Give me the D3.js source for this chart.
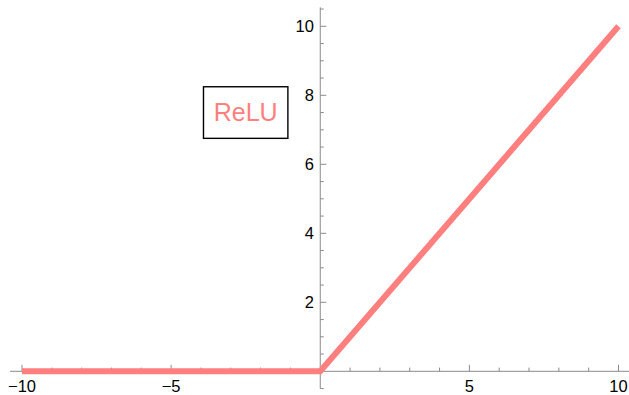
<!DOCTYPE html>
<html>
<head>
<meta charset="utf-8">
<script src="https://cdn.jsdelivr.net/npm/d3@7"></script>
<style>
  html, body { margin: 0; padding: 0; background: #fff; }
  svg { display: block; font-family: "Liberation Sans", Arial, sans-serif; }
</style>
</head>
<body>
<svg id="chart"></svg>
<script>
// ReLU curve
var xs = [-10, 0, 10];
var ys = [0, 0, 10];

var xMajor = [-10, -5, 5, 10];
var xMinor = [-9, -8, -7, -6, -4, -3, -2, -1, 1, 2, 3, 4, 6, 7, 8, 9];
var yMajor = [2, 4, 6, 8, 10];
var yMinor = [-0.5, 0.5, 1, 1.5, 2.5, 3, 3.5, 4.5, 5, 5.5, 6.5, 7, 7.5, 8.5, 9, 9.5, 10.5];

var label = {text: "ReLU", x: -2.5, y: 7.5};

var setup = { width: 629, height: 395 };
var pink = "#ff7f7f";
var axisCol = "#8a8a8a";

var svg = d3.select("#chart")
  .attr("width", setup.width)
  .attr("height", setup.height);

var x = d3.scaleLinear().domain([-10, 10]).range([22, 618.5]);
var y = d3.scaleLinear().domain([0, 10]).range([371.3, 26.3]);

// axes lines (cross at origin)
svg.append("line")
  .attr("x1", x(-10.4)).attr("x2", setup.width)
  .attr("y1", y(0)).attr("y2", y(0))
  .attr("stroke", axisCol).attr("stroke-width", 1);

svg.append("line")
  .attr("x1", x(0)).attr("x2", x(0))
  .attr("y1", y(-0.5)).attr("y2", y(10.55))
  .attr("stroke", axisCol).attr("stroke-width", 1);

// x ticks point up into the plot
svg.selectAll(".xmaj").data(xMajor).enter().append("line")
  .attr("x1", d => x(d)).attr("x2", d => x(d))
  .attr("y1", y(0)).attr("y2", y(0) - 6.5)
  .attr("stroke", axisCol);
svg.selectAll(".xmin").data(xMinor).enter().append("line")
  .attr("x1", d => x(d)).attr("x2", d => x(d))
  .attr("y1", y(0)).attr("y2", y(0) - 3.7)
  .attr("stroke", axisCol);

svg.selectAll(".xlab").data(xMajor).enter().append("text")
  .attr("x", d => x(d)).attr("y", y(0) + 20.5)
  .attr("text-anchor", "middle")
  .attr("font-size", 16.5)
  .attr("fill", "#000")
  .text(d => d < 0 ? "\u2212" + Math.abs(d) : d);

// y ticks point right
svg.selectAll(".ymaj").data(yMajor).enter().append("line")
  .attr("x1", x(0)).attr("x2", x(0) + 6)
  .attr("y1", d => y(d)).attr("y2", d => y(d))
  .attr("stroke", axisCol);
svg.selectAll(".ymin").data(yMinor).enter().append("line")
  .attr("x1", x(0)).attr("x2", x(0) + 3.5)
  .attr("y1", d => y(d)).attr("y2", d => y(d))
  .attr("stroke", axisCol);

svg.selectAll(".ylab").data(yMajor).enter().append("text")
  .attr("x", x(0) - 6.3).attr("y", d => y(d) + 6)
  .attr("text-anchor", "end")
  .attr("font-size", 16.5)
  .attr("fill", "#000")
  .text(d => d);

// the curve
var line = d3.line()
  .x((d, i) => x(xs[i]))
  .y(d => y(d));

svg.append("path")
  .attr("d", line(ys))
  .attr("fill", "none")
  .attr("stroke", pink)
  .attr("stroke-width", 6)
  .attr("stroke-linejoin", "miter");

// label box
var lx = x(label.x), ly = y(label.y);
svg.append("rect")
  .attr("x", lx - 42.2).attr("y", ly - 25.8)
  .attr("width", 84.4).attr("height", 51.6)
  .attr("fill", "#fff")
  .attr("stroke", "#000")
  .attr("stroke-width", 1.4);
svg.append("text")
  .attr("x", lx).attr("y", ly + 8.6)
  .attr("text-anchor", "middle")
  .attr("font-size", 25)
  .attr("fill", pink)
  .text(label.text);
</script>
</body>
</html>
